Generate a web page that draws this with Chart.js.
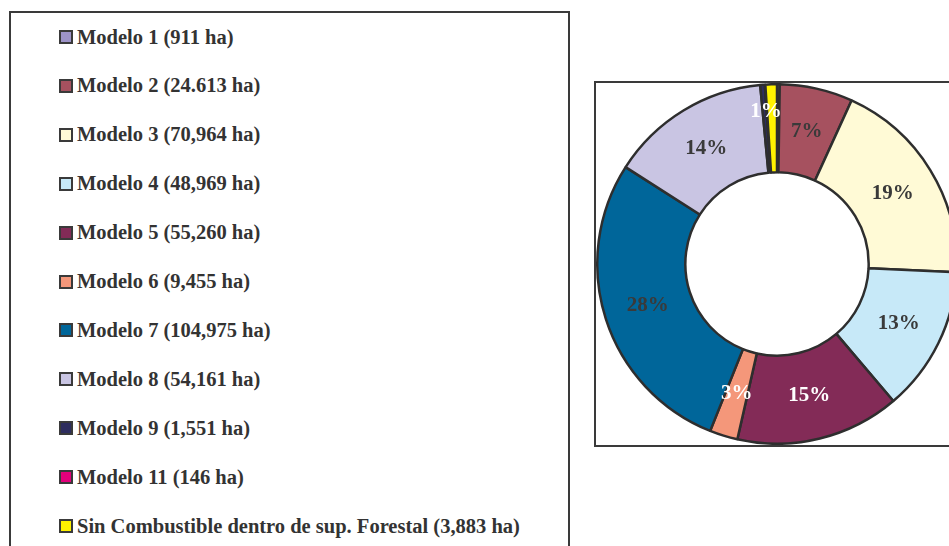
<!DOCTYPE html>
<html>
<head>
<meta charset="utf-8">
<script src="https://cdn.jsdelivr.net/npm/chart.js@4.4.0/dist/chart.umd.min.js"></script>
<style>
  html, body { margin: 0; padding: 0; background: #fff; }
  body { width: 949px; height: 546px; overflow: hidden; position: relative; }
  #legendBox {
    position: absolute; left: 9px; top: 11px; width: 561px; height: 560px;
    border: 2px solid #3a3a3a; box-sizing: border-box;
  }
  .legend-item {
    position: absolute; left: 48px; height: 24px;
    display: flex; align-items: center;
    font: bold 20.5px "Liberation Serif", "Times New Roman", serif; color: #333333;
    white-space: nowrap;
  }
  .legend-item .swatch {
    width: 10px; height: 10px; border: 2px solid #3a3a3a; margin-right: 4px; flex: none;
  }
  #chartBox {
    position: absolute; left: 594px; top: 81px; width: 380px; height: 366px;
    border: 2px solid #3a3a3a; box-sizing: border-box; overflow: hidden;
  }
  #chartWrap { position: absolute; left: -1px; top: 0px; width: 364px; height: 362px; }
</style>
</head>
<body>
<div id="legendBox"></div>
<div id="chartBox"><div id="chartWrap"><canvas id="donutChart"></canvas></div></div>

<script>
// data
const categories = ['Modelo 1', 'Modelo 2', 'Modelo 3', 'Modelo 4', 'Modelo 5', 'Modelo 6',
                    'Modelo 7', 'Modelo 8', 'Modelo 9', 'Modelo 11', 'Sin Combustible dentro de sup. Forestal'];
const areaLabels = ['911 ha', '24.613 ha', '70,964 ha', '48,969 ha', '55,260 ha', '9,455 ha',
                    '104,975 ha', '54,161 ha', '1,551 ha', '146 ha', '3,883 ha'];
const hectares = [911, 24613, 70964, 48969, 55260, 9455, 104975, 54161, 1551, 146, 3883];
const sliceColors = ['#9d93c8', '#a6515f', '#fffad6', '#c7e9f8', '#832b57', '#f4977a',
                     '#00669a', '#c9c5e3', '#2e2d5e', '#e3007b', '#fff200'];
const labelColors = ['#333', '#3a3a3a', '#3a3a3a', '#3a3a3a', '#ffffff', '#ffffff',
                     '#3a3a3a', '#3a3a3a', '#ffffff', '#ffffff', '#ffffff'];

// legend (html)
const legendBox = document.getElementById('legendBox');
categories.forEach((name, i) => {
  const item = document.createElement('div');
  item.className = 'legend-item';
  item.style.top = (12 + i * 48.9) + 'px';
  item.innerHTML = '<span class="swatch" style="background:' + sliceColors[i] + '"></span>' +
                   name + ' (' + areaLabels[i] + ')';
  legendBox.appendChild(item);
});

// percent labels inside the ring
const percentLabels = {
  id: 'percentLabels',
  afterDatasetsDraw(chart) {
    const ctx = chart.ctx;
    const data = chart.data.datasets[0].data;
    const total = data.reduce((a, b) => a + b, 0);
    ctx.save();
    ctx.font = 'bold 21px "Liberation Serif", "Times New Roman", serif';
    ctx.textAlign = 'center';
    ctx.textBaseline = 'middle';
    chart.getDatasetMeta(0).data.forEach((arc, i) => {
      const share = data[i] / total * 100;
      const pct = Math.round(share);
      if (pct < 1) return;
      const mid = (arc.startAngle + arc.endAngle) / 2;
      // thin slices get their label pushed out a bit, like the original
      const r = (arc.innerRadius + arc.outerRadius) / 2 + (share < 2 ? 17 : 0);
      const x = arc.x + Math.cos(mid) * r - (share < 2 ? 6 : 0);
      const y = arc.y + Math.sin(mid) * r;
      ctx.fillStyle = labelColors[i];
      ctx.fillText(pct + '%', x, y);
    });
    ctx.restore();
  }
};

new Chart(document.getElementById('donutChart'), {
  type: 'doughnut',
  data: {
    labels: categories,
    datasets: [{
      data: hectares,
      backgroundColor: sliceColors,
      borderColor: '#2e2e2e',
      borderWidth: 2.5
    }]
  },
  options: {
    responsive: true,
    maintainAspectRatio: false,
    animation: false,
    cutout: '51%',
    layout: { padding: 0 },
    plugins: {
      legend: { display: false },
      tooltip: { enabled: false }
    }
  },
  plugins: [percentLabels]
});
</script>
</body>
</html>
